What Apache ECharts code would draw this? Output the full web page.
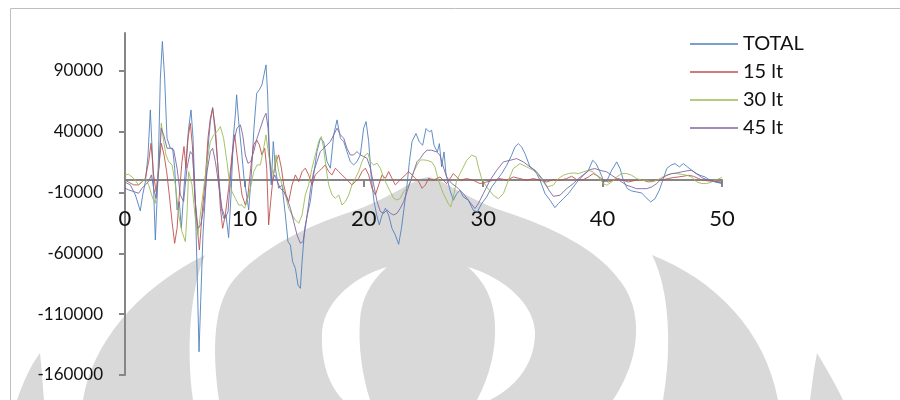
<!DOCTYPE html>
<html>
<head>
<meta charset="utf-8">
<script src="https://cdn.jsdelivr.net/npm/echarts@6/dist/echarts.min.js"></script>
<style>html,body{margin:0;padding:0;background:#fff}#c{width:900px;height:400px}</style>
</head>
<body>
<div id="c"></div>
<script>
var seriesNames = ['TOTAL', '15 lt', '30 lt', '45 lt'];
var yTicks = [-160000, -110000, -60000, -10000, 40000, 90000];
var xTicks = [0, 10, 20, 30, 40, 50];

var totalData = [[0,-1600],[0.45,-3800],[0.87,-12100],[1.28,-25200],[1.48,-12100],[1.7,-1600],[1.93,20800],[2.12,57800],[2.32,15300],[2.54,-49100],[2.76,1600],[2.96,83900],[3.13,114000],[3.32,83900],[3.52,34500],[3.8,26300],[3.99,26300],[4.16,9900],[4.36,-24400],[4.55,-17500],[4.72,-39500],[4.94,-6600],[5.19,26300],[5.33,42800],[5.53,57800],[5.7,34500],[5.89,-17500],[6.06,-83300],[6.2,-140900],[6.34,-99800],[6.53,-45000],[6.73,-12100],[6.95,26300],[7.15,48200],[7.34,59800],[7.57,37300],[7.84,4400],[8.07,-23000],[8.26,-31200],[8.46,-28500],[8.68,-47100],[8.88,-12100],[9.07,34500],[9.24,53700],[9.35,70200],[9.52,48200],[9.74,26300],[9.97,1600],[10.19,-12100],[10.36,-24400],[10.58,4400],[10.8,42800],[11.03,71500],[11.25,74300],[11.47,78400],[11.64,86600],[11.81,94800],[11.95,70200],[12.09,20800],[12.25,-3800],[12.42,31800],[12.59,9900],[12.87,-6600],[13.15,-3800],[13.43,-28500],[13.65,-50400],[13.85,-53200],[14.04,-66900],[14.27,-72400],[14.49,-86100],[14.69,-88800],[14.83,-66900],[15.05,-39500],[15.27,-28500],[15.52,-17500],[15.8,4400],[16.08,23600],[16.36,34500],[16.64,31800],[16.92,15300],[17.2,9900],[17.48,37300],[17.76,49600],[18.04,34500],[18.32,31800],[18.59,23600],[18.87,15300],[19.15,12600],[19.43,15300],[19.71,20800],[19.99,42800],[20.19,48200],[20.41,31800],[20.63,1600],[20.86,-17500],[21.08,-28500],[21.3,-36700],[21.53,-28500],[21.81,-23000],[22.08,-28500],[22.36,-39500],[22.64,-45000],[22.92,-52600],[23.15,-39500],[23.37,-23000],[23.62,-3800],[23.82,15300],[24.04,31800],[24.37,38400],[24.65,31500],[24.93,28800],[25.21,42500],[25.49,39700],[25.68,41100],[25.88,28800],[26.16,23300],[26.33,30100],[26.52,11000],[26.72,23300],[26.88,5500],[27.22,-8200],[27.5,-16400],[27.78,-11000],[28.06,-8200],[28.34,-13700],[28.76,-16400],[29.17,-24700],[29.51,-26000],[29.87,-19200],[30.29,-13700],[30.71,-5500],[31.13,0],[31.55,5500],[31.97,12300],[32.38,20600],[32.66,27400],[32.94,30100],[33.22,27400],[33.5,21900],[33.92,11000],[34.34,8200],[34.76,0],[35.18,-11000],[35.6,-16400],[36.01,-22500],[36.29,-19200],[36.71,-15100],[37.13,-11000],[37.55,-5500],[37.97,0],[38.39,4100],[38.81,8200],[39.17,16400],[39.45,13700],[39.78,6900],[40.12,-1400],[40.4,500],[40.76,8200],[41.18,15100],[41.46,9600],[41.74,0],[42.07,-6900],[42.44,-8800],[42.85,-9600],[43.27,-10400],[43.64,-14300],[44.03,-17800],[44.39,-15100],[44.75,-8200],[45.09,1400],[45.37,9600],[45.7,12300],[46.06,13700],[46.43,11000],[46.76,13700],[47.1,11000],[47.46,8200],[47.82,5500],[48.16,4100],[48.58,2700],[48.99,0],[49.42,-1400],[50,-2700]];

var lt15Data = [[0,300],[0.31,-1600],[0.73,-3800],[1.14,-3800],[1.42,-1600],[1.7,1600],[1.98,15300],[2.18,30400],[2.4,4400],[2.6,-9300],[2.82,9900],[3.04,30400],[3.27,20800],[3.49,7100],[3.71,-12100],[3.94,-34000],[4.16,-51800],[4.36,-39500],[4.55,-12100],[4.77,15300],[4.94,27700],[5.11,9900],[5.28,34500],[5.47,46900],[5.64,29100],[5.84,-12100],[6.03,-36700],[6.23,-57300],[6.45,-28500],[6.73,1600],[6.95,34500],[7.15,51000],[7.34,59200],[7.57,42800],[7.79,9900],[7.99,-23000],[8.18,-39500],[8.4,-28500],[8.68,-6600],[8.96,20800],[9.19,37300],[9.38,20800],[9.58,4400],[9.8,-12100],[10.08,-20300],[10.3,-12100],[10.53,9900],[10.78,29100],[11.03,33200],[11.25,29100],[11.47,20800],[11.7,26300],[11.87,9900],[12.03,-36700],[12.2,-17500],[12.42,4400],[12.65,15300],[12.87,20800],[13.1,9900],[13.29,-3800],[13.49,-12100],[13.71,-17500],[13.99,-3800],[14.27,4400],[14.55,-1100],[14.83,7100],[15.1,9900],[15.38,4400],[15.66,-3800],[15.94,4400],[16.22,7100],[16.5,9900],[16.78,12600],[17.06,7100],[17.34,4400],[17.62,9900],[17.9,7100],[18.18,4400],[18.46,1600],[18.74,-1100],[19.01,-3800],[19.29,-1100],[19.57,1600],[19.85,7100],[20.13,9900],[20.41,4400],[20.69,-6600],[20.97,-12100],[21.25,-3800],[21.53,4400],[21.81,1600],[22.08,7100],[22.36,1600],[22.64,-3800],[22.92,-1100],[23.2,1600],[23.48,4400],[23.76,7100],[24.04,4400],[24.32,1600],[24.6,-1100],[24.88,-6600],[25.16,-3800],[25.43,1600],[25.82,0],[26.38,2700],[26.94,-2700],[27.5,5500],[28.06,0],[28.62,1400],[29.17,0],[29.73,-2700],[30.29,-1400],[30.85,0],[31.41,1400],[31.97,0],[32.52,2700],[33.08,1400],[33.64,0],[34.2,1400],[34.76,0],[35.32,-1400],[35.87,500],[36.43,0],[36.99,1400],[37.41,3300],[37.83,500],[38.39,500],[38.81,2700],[39.22,5500],[39.64,3300],[40.06,0],[40.48,-1400],[40.9,0],[41.32,1400],[41.74,0],[42.16,-1400],[42.57,-500],[42.99,500],[43.41,0],[43.83,-1400],[44.25,-500],[44.67,0],[45.09,500],[45.51,1400],[45.92,2200],[46.34,2700],[46.76,3300],[47.18,4100],[47.6,3300],[48.02,1400],[48.44,0],[48.86,-500],[49.28,-800],[50,-1400]];

var lt30Data = [[0,4400],[0.31,4900],[0.73,1600],[1.14,-3800],[1.42,-1100],[1.7,1600],[1.98,-3800],[2.32,-14800],[2.54,-18900],[2.82,9900],[3.04,46900],[3.24,31800],[3.43,20800],[3.66,15300],[3.94,12600],[4.22,-3800],[4.5,-28500],[4.77,-42200],[5.05,-50400],[5.19,-28500],[5.33,7100],[5.61,-3800],[5.89,-31200],[6.11,-45000],[6.31,-28500],[6.59,-6600],[6.87,15300],[7.15,31800],[7.43,37300],[7.71,40000],[7.99,44100],[8.26,34500],[8.54,15300],[8.74,-1100],[8.96,-9300],[9.24,-14800],[9.52,-20300],[9.8,-20300],[10.02,-23000],[10.22,-17500],[10.5,-6600],[10.78,7100],[11.06,12600],[11.34,12600],[11.61,26300],[11.81,37300],[12.03,20800],[12.25,9900],[12.45,4400],[12.65,20800],[12.87,7100],[13.15,-3800],[13.43,-12100],[13.71,-23000],[13.99,-28500],[14.27,-32600],[14.55,-35400],[14.83,-28500],[15.1,-12100],[15.38,-3800],[15.66,9900],[15.94,20800],[16.22,31800],[16.44,35900],[16.64,26300],[16.84,9900],[17.06,-3800],[17.34,-12100],[17.62,-14800],[17.9,-12100],[18.18,-20300],[18.46,-17500],[18.74,-12100],[19.01,-3800],[19.29,1600],[19.57,7100],[19.85,15300],[20.13,20800],[20.35,22200],[20.55,15300],[20.83,12600],[21.11,14000],[21.39,9900],[21.67,1600],[21.94,-3800],[22.22,-9300],[22.5,-14800],[22.78,-16200],[23.06,-14800],[23.34,-9300],[23.62,-6600],[23.9,-1100],[24.18,7100],[24.46,12600],[24.74,16700],[25.02,16700],[25.27,16400],[25.68,15100],[25.96,11000],[26.24,0],[26.66,-11000],[27.08,-19200],[27.28,-21900],[27.5,-13700],[27.78,0],[28.2,8200],[28.62,16400],[29.03,20600],[29.4,19200],[29.59,11000],[29.87,1400],[30.29,-5500],[30.85,-12300],[31.27,-15100],[31.69,-11000],[32.11,0],[32.52,9600],[33.08,13700],[33.64,11000],[34.2,8200],[34.76,2700],[35.32,-5500],[35.87,-4000],[36.29,1400],[36.71,4100],[37.13,5500],[37.55,6000],[37.97,5500],[38.39,6900],[38.81,8200],[39.22,6900],[39.64,2700],[40.06,-2700],[40.34,-4100],[40.76,-1400],[41.18,2700],[41.6,5500],[42.02,5500],[42.44,4100],[42.85,1400],[43.27,0],[43.69,0],[44.11,-1400],[44.53,0],[44.95,2200],[45.37,4100],[45.79,5500],[46.2,5500],[46.62,4900],[47.04,4100],[47.46,2700],[47.88,-1400],[48.3,-2700],[48.72,-2700],[49.14,-1400],[49.55,500],[50,2200]];

var lt45Data = [[0,-6600],[0.31,-7900],[0.73,-9300],[1.14,-10700],[1.42,-6600],[1.7,-3800],[1.98,-1100],[2.21,4400],[2.4,-6600],[2.6,-14800],[2.82,7100],[3.04,42800],[3.24,37300],[3.52,26300],[3.8,26300],[4.08,24900],[4.36,9900],[4.64,-12100],[4.91,-17500],[5.19,9900],[5.47,23600],[5.67,20800],[5.89,-17500],[6.11,-39500],[6.34,-36700],[6.59,-23000],[6.87,7100],[7.15,23600],[7.34,26300],[7.57,15300],[7.85,-3800],[8.12,-23000],[8.4,-31200],[8.63,-25800],[8.85,4400],[9.1,31800],[9.38,42800],[9.66,45500],[9.86,37300],[10.08,20800],[10.3,14000],[10.53,15300],[10.78,23600],[11.06,34500],[11.34,42800],[11.61,51000],[11.81,55100],[11.98,42800],[12.14,15300],[12.31,-1100],[12.54,4400],[12.76,-1100],[13.01,-6600],[13.29,-9300],[13.57,-14800],[13.85,-23000],[14.13,-34000],[14.41,-45000],[14.69,-51800],[14.91,-50400],[15.1,-39500],[15.33,-23000],[15.55,-6600],[15.8,7100],[16.08,15300],[16.36,23600],[16.64,26300],[16.92,29100],[17.2,31800],[17.48,37300],[17.76,42800],[18.04,37300],[18.32,34500],[18.59,26300],[18.87,20800],[19.15,20800],[19.43,23600],[19.71,20800],[19.99,19500],[20.27,18100],[20.55,9900],[20.83,-3800],[21.11,-17500],[21.39,-25800],[21.67,-27100],[21.95,-24400],[22.22,-27100],[22.5,-28500],[22.78,-27100],[23.06,-23000],[23.34,-17500],[23.62,-9300],[23.9,-1100],[24.18,7100],[24.46,15300],[24.74,18100],[25.02,22200],[25.3,24700],[25.68,24700],[26.1,23300],[26.38,20600],[26.66,11000],[26.94,2700],[27.36,-2700],[27.78,-5500],[28.34,-11000],[28.76,-16400],[29.31,-23300],[29.59,-19200],[30.01,-11000],[30.57,0],[31.13,8200],[31.69,15100],[32.25,16400],[32.8,17800],[33.36,15100],[33.92,11000],[34.48,6900],[35.04,0],[35.5,-8000],[35.87,-13200],[36.43,-12300],[36.99,-6900],[37.55,-2700],[37.97,1400],[38.53,5500],[38.95,8800],[39.36,9600],[39.78,8200],[40.34,6900],[40.76,4100],[41.18,1400],[41.6,-1400],[42.02,-4100],[42.44,-5500],[42.85,-6900],[43.27,-6900],[43.69,-6900],[44.11,-5500],[44.53,-2700],[44.95,1400],[45.37,4100],[45.79,5500],[46.2,6000],[46.62,6900],[47.04,7700],[47.46,8200],[47.88,5500],[48.3,2200],[48.72,500],[49.14,-500],[49.55,-1400],[50,-2200]];

var seriesColors = ['#4F81BD', '#C0504D', '#9BBB59', '#8064A2'];
var allData = [totalData, lt15Data, lt30Data, lt45Data];

var FONT = 'Lato, "Noto Sans", sans-serif';
var GREY = '#d9d9d9';

// background watermark shapes (decoration only)
var wmPaths = {
  wmA: 'M17,400 C24,380 31,365 40,353 C42,372 43,388 44,400 Z',
  wmB: 'M83,400 C92,345 135,290 205,255 C190,290 186,350 193,400 Z',
  wmC: 'M219,400 C212,350 212,300 239,274 C262,250 300,228 356,210 C390,198 415,178 428,177 C441,178 466,198 500,210 C556,228 596,250 617,277 C646,310 640,360 613,400 Z',
  wmL: 'M387,267 C350,278 322,305 322,335 C321,360 328,385 343,400 L370,400 C362,375 358,345 360,320 C361,300 370,282 387,267 Z',
  wmR: 'M468,267 C505,278 535,305 535,333 C535,360 520,385 490,400 L477,400 C490,375 496,350 495,325 C494,300 485,282 468,267 Z',
  wmE: 'M652,255 C715,280 765,330 778,400 L663,400 C672,350 670,290 652,255 Z',
  wmF: 'M817,353 C826,368 836,385 843,400 L810,400 C812,385 814,368 817,353 Z'
};
Object.keys(wmPaths).forEach(function (k) {
  echarts.graphic.registerShape(k, echarts.graphic.extendPath(wmPaths[k], {}));
});
var wmFill = {wmA: GREY, wmB: GREY, wmC: GREY, wmL: '#ffffff', wmR: '#ffffff', wmE: GREY, wmF: GREY};
var graphics = Object.keys(wmPaths).map(function (k) {
  return {type: k, z: (k === 'wmL' || k === 'wmR') ? -9 : -10, silent: true, shape: {}, style: {fill: wmFill[k]}};
});
graphics.push({type: 'rect', z: -8, silent: true, shape: {x: 10.5, y: 8.5, width: 900, height: 400}, style: {fill: 'none', stroke: '#bfbfbf', lineWidth: 1}});

var chart = echarts.init(document.getElementById('c'), null, {renderer: 'canvas'});

var option = {
  animation: false,
  backgroundColor: '#ffffff',
  textStyle: {fontFamily: FONT},
  graphic: graphics,
  legend: {
    orient: 'vertical',
    left: 685,
    top: 29,
    itemWidth: 48,
    itemHeight: 1.5,
    itemGap: 8,
    icon: 'rect',
    data: seriesNames,
    textStyle: {fontFamily: FONT, fontSize: 20, lineHeight: 20, color: '#111'}
  },
  grid: {left: 125, right: 178, top: 33, bottom: 25, containLabel: false, outerBoundsMode: 'none'},
  xAxis: {
    type: 'value',
    position: 'bottom',
    offset: -195,
    min: 0,
    max: 50,
    interval: 10,
    axisLine: {onZero: false, lineStyle: {color: '#868686', width: 2}},
    axisTick: {show: true, length: 7, lineStyle: {color: '#868686', width: 2}},
    axisLabel: {fontFamily: FONT, fontSize: 22, color: '#111', margin: 28},
    splitLine: {show: false}
  },
  yAxis: {
    type: 'value',
    min: -160000,
    max: 121000,
    axisLine: {show: true, onZero: false, lineStyle: {color: '#868686', width: 2}},
    axisTick: {show: true, length: 6, lineStyle: {color: '#868686', width: 2}, customValues: yTicks},
    axisLabel: {fontFamily: FONT, fontSize: 17, color: '#111', margin: 22, customValues: yTicks,
      formatter: function (v) { return String(v); }},
    splitLine: {show: false}
  },
  series: seriesNames.map(function (name, i) {
    return {
      name: name,
      type: 'line',
      data: allData[i],
      showSymbol: false,
      symbol: 'none',
      z: 2 + i,
      lineStyle: {color: seriesColors[i], width: 0.9},
      itemStyle: {color: seriesColors[i]}
    };
  })
};
chart.setOption(option);
</script>
</body>
</html>
